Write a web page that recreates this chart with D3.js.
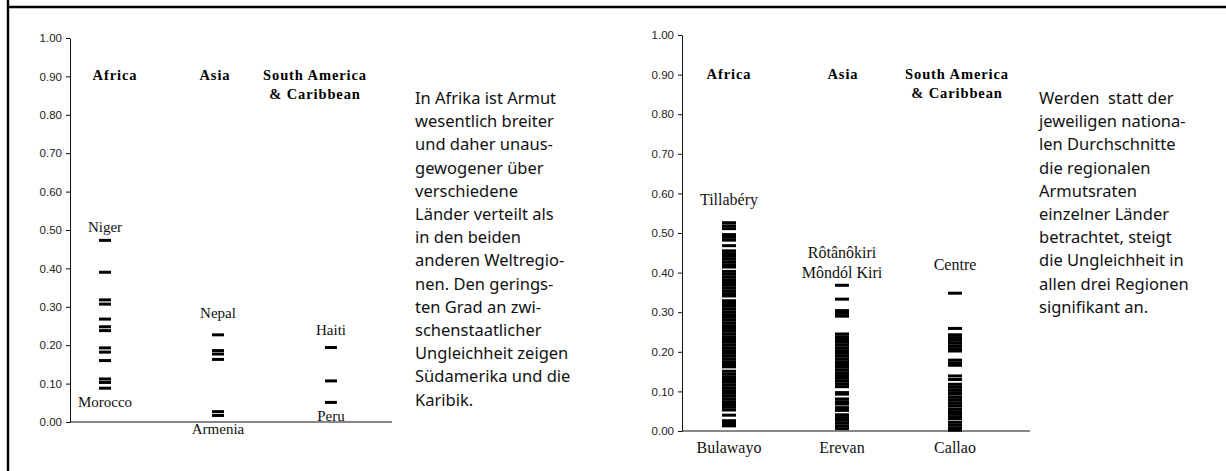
<!DOCTYPE html>
<html>
<head>
<meta charset="utf-8">
<script src="https://cdn.jsdelivr.net/npm/d3@7"></script>
<style>
  body { margin: 0; background: #fff; }
  svg { display: block; }
</style>
</head>
<body>
<div id="chart"></div>
<script>
// region headers (shared by both panels)
const regions = ["Africa", "Asia", "South America & Caribbean"];
const regionHeaders = [["Africa"], ["Asia"], ["South America", "& Caribbean"]];
const yTickValues = [0, 0.1, 0.2, 0.3, 0.4, 0.5, 0.6, 0.7, 0.8, 0.9, 1.0];

// national poverty rates, one dash per country
const africaCountries = [0.473, 0.390, 0.318, 0.307, 0.268, 0.248, 0.238, 0.193, 0.182, 0.160, 0.112, 0.103, 0.088];
const asiaCountries = [0.227, 0.186, 0.177, 0.163, 0.027, 0.017];
const latinCountries = [0.194, 0.107, 0.051];
const countryTopLabels = [["Niger"], ["Nepal"], ["Haiti"]];
const countryBottomLabels = ["Morocco", "Armenia", "Peru"];

// regional poverty rates, one dash per sub-national region
const africaRegions = [0.526, 0.518, 0.511, 0.496, 0.489, 0.482, 0.468, 0.455, 0.448, 0.441, 0.434,
    0.427, 0.420, 0.414, 0.403, 0.396, 0.389, 0.382, 0.375, 0.368, 0.361, 0.354, 0.347, 0.341,
    0.329, 0.322, 0.315, 0.308, 0.301, 0.294, 0.287, 0.280, 0.273, 0.266, 0.259, 0.252, 0.245,
    0.238, 0.231, 0.224, 0.217, 0.210, 0.203, 0.196, 0.189, 0.182, 0.175, 0.168, 0.162, 0.151,
    0.144, 0.137, 0.130, 0.123, 0.116, 0.109, 0.102, 0.095, 0.088, 0.081, 0.074, 0.067, 0.060,
    0.053, 0.040, 0.026, 0.019, 0.013];
const asiaRegions = [0.368, 0.333, 0.304, 0.297, 0.290, 0.245, 0.238, 0.231, 0.224, 0.217, 0.210,
    0.203, 0.196, 0.189, 0.182, 0.175, 0.168, 0.161, 0.154, 0.147, 0.140, 0.133, 0.126, 0.119,
    0.112, 0.097, 0.093, 0.081, 0.074, 0.068, 0.059, 0.052, 0.041, 0.034, 0.027, 0.020, 0.013, 0.006];
const latinRegions = [0.348, 0.259, 0.243, 0.236, 0.229, 0.222, 0.215, 0.208, 0.202, 0.179, 0.172,
    0.166, 0.139, 0.130, 0.118, 0.111, 0.104, 0.097, 0.093, 0.085, 0.078, 0.071, 0.064, 0.056,
    0.049, 0.042, 0.035, 0.031, 0.022, 0.015, 0.008, 0.002];
const regionTopLabels = [["Tillabéry"], ["Rôtânôkiri", "Môndól Kiri"], ["Centre"]];
const regionBottomLabels = ["Bulawayo", "Erevan", "Callao"];

const noteLeft = ["In Afrika ist Armut", "wesentlich breiter", "und daher unaus-", "gewogener über",
    "verschiedene", "Länder verteilt als", "in den beiden", "anderen Weltregio-", "nen. Den gerings-",
    "ten Grad an zwi-", "schenstaatlicher", "Ungleichheit zeigen", "Südamerika und die", "Karibik."];
const noteRight = ["Werden  statt der", "jeweiligen nationa-", "len Durchschnitte", "die regionalen",
    "Armutsraten", "einzelner Länder", "betrachtet, steigt", "die Ungleichheit in", "allen drei Regionen",
    "signifikant an."];

const width = 1226, height = 471;

const svg = d3.select("#chart").append("svg")
    .attr("width", width)
    .attr("height", height);

svg.append("rect").attr("width", width).attr("height", height).attr("fill", "#fff");

// page frame: left rule and top rule
svg.append("path")
    .attr("d", `M8,0 V${height} M8,7 H${width}`)
    .attr("fill", "none")
    .attr("stroke", "#000")
    .attr("stroke-width", 2.4);

class StripChart {

    constructor(config, series, topLabels, bottomLabels) {
        this.config = config;
        this.series = series;
        this.topLabels = topLabels;
        this.bottomLabels = bottomLabels;
        this.render();
    }

    render() {
        const vis = this;
        const c = vis.config;

        vis.g = svg.append("g");

        vis.yScale = d3.scaleLinear().domain([0, 1]).range([c.zeroY, c.oneY]);
        vis.xScale = d3.scalePoint().domain(regions).range(c.markRange);
        vis.headerScale = d3.scalePoint().domain(regions).range(c.headerRange);

        // y axis
        vis.g.append("g")
            .attr("transform", `translate(${c.axisX},0)`)
            .call(d3.axisLeft(vis.yScale)
                .tickValues(yTickValues)
                .tickFormat(d3.format(".2f"))
                .tickSize(4)
                .tickSizeOuter(0))
            .call(g => g.selectAll("text")
                .attr("x", -8)
                .style("font-family", "'Liberation Sans', Arial, sans-serif")
                .style("font-size", "11.5px")
                .attr("fill", "#222"))
            .call(g => g.selectAll("line, path").attr("stroke", "#111"));

        // x axis line, no ticks
        vis.g.append("line")
            .attr("x1", c.axisX)
            .attr("x2", c.axisEnd)
            .attr("y1", vis.yScale(0))
            .attr("y2", vis.yScale(0))
            .attr("stroke", "#111")
            .attr("stroke-width", 1.2);

        // region headers
        vis.g.selectAll(".header")
            .data(regions)
            .join("text")
            .attr("class", "header")
            .attr("x", d => vis.headerScale(d))
            .attr("y", vis.yScale(0.9) + 4)
            .attr("text-anchor", "middle")
            .style("font-family", "'Liberation Serif', 'Times New Roman', serif")
            .style("font-weight", "bold")
            .style("font-size", "14.5px")
            .style("letter-spacing", "0.9px")
            .selectAll("tspan")
            .data((d, i) => regionHeaders[i])
            .join("tspan")
            .attr("x", function () { return this.parentNode.getAttribute("x"); })
            .attr("dy", (d, i) => i === 0 ? 0 : 19)
            .text(d => d);

        // one dash per value
        regions.forEach((r, i) => {
            vis.g.selectAll(".mark-" + i)
                .data(vis.series[i])
                .join("rect")
                .attr("class", "mark-" + i)
                .attr("x", vis.xScale(r) - c.markWidth / 2)
                .attr("y", d => vis.yScale(d) - 1.5)
                .attr("width", c.markWidth)
                .attr("height", 3)
                .attr("fill", "#000");
        });

        const labelStyle = sel => sel
            .attr("text-anchor", "middle")
            .style("font-family", "'Liberation Serif', 'Times New Roman', serif")
            .style("font-size", c.labelSize + "px")
            .attr("fill", "#111");

        // names above the highest dash
        regions.forEach((r, i) => {
            const lines = vis.topLabels[i];
            const top = vis.yScale(d3.max(vis.series[i])) - c.topGaps[i];
            vis.g.selectAll(".top-" + i)
                .data(lines)
                .join("text")
                .attr("class", "top-" + i)
                .attr("x", vis.xScale(r))
                .attr("y", (d, j) => top - (lines.length - 1 - j) * 20)
                .call(labelStyle)
                .text(d => d);
        });

        // names below the lowest dash or below the axis
        vis.g.selectAll(".bottom")
            .data(regions)
            .join("text")
            .attr("class", "bottom")
            .attr("x", d => vis.xScale(d))
            .attr("y", (d, i) => c.bottomBelowAxis
                ? vis.yScale(0) + c.bottomGap
                : vis.yScale(d3.min(vis.series[i])) + c.bottomGap)
            .call(labelStyle)
            .text((d, i) => vis.bottomLabels[i]);
    }
}

new StripChart({
    axisX: 70, axisEnd: 392, zeroY: 422, oneY: 38,
    markRange: [105, 331], headerRange: [115, 315],
    markWidth: 12, labelSize: 15, topGaps: [8, 17, 13], bottomGap: 19, bottomBelowAxis: false
}, [africaCountries, asiaCountries, latinCountries], countryTopLabels, countryBottomLabels);

new StripChart({
    axisX: 682, axisEnd: 1030, zeroY: 431, oneY: 35,
    markRange: [729, 955], headerRange: [729, 957],
    markWidth: 14, labelSize: 16, topGaps: [18, 7, 23], bottomGap: 22, bottomBelowAxis: true
}, [africaRegions, asiaRegions, latinRegions], regionTopLabels, regionBottomLabels);

// explanatory notes
function note(lines, x, y) {
    svg.append("text")
        .attr("x", x)
        .attr("y", y)
        .style("font-family", "'Noto Sans', 'Open Sans', sans-serif")
        .style("font-size", "16.5px")
        .style("white-space", "pre")
        .attr("fill", "#111")
        .selectAll("tspan")
        .data(lines)
        .join("tspan")
        .attr("x", x)
        .attr("dy", (d, i) => i === 0 ? 0 : 23.2)
        .text(d => d);
}

note(noteLeft, 415, 104);
note(noteRight, 1039, 104);
</script>
</body>
</html>
